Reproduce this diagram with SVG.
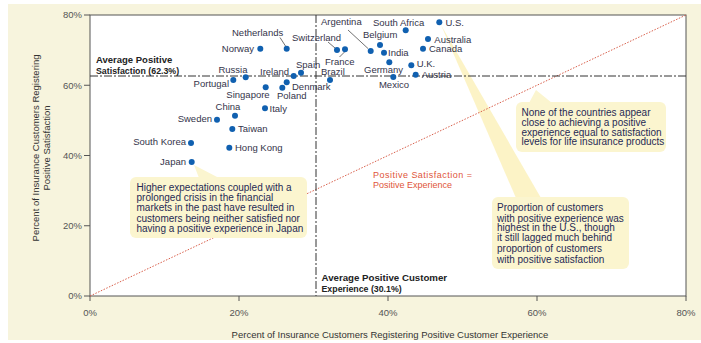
<svg xmlns="http://www.w3.org/2000/svg" width="701" height="343" viewBox="0 0 701 343">
<style>
.lbl{font-family:"Liberation Sans",Arial,sans-serif;font-size:9.5px;fill:#34344a}
.tick{font-family:"Liberation Sans",Arial,sans-serif;font-size:9.5px;fill:#555}
.ttl{font-family:"Liberation Sans",Arial,sans-serif;font-size:9.5px;fill:#333}
.avg{font-family:"Liberation Sans",Arial,sans-serif;font-weight:bold;fill:#222}
.note{font-family:"Liberation Sans",Arial,sans-serif;font-size:10px;fill:#262a55}
.red{font-family:"Liberation Sans",Arial,sans-serif;font-size:9px;fill:#e0553a}
.dot{fill:#1060b0}
.box{fill:#fbf5cf}
.dash{stroke:#333;stroke-width:1;stroke-dasharray:8 2 2 2;fill:none}
.lead{stroke:#333;stroke-width:0.7;fill:none}
</style>
<rect x="8" y="4" width="693" height="336" fill="#f7f4dd"/>
<rect x="90" y="15" width="596" height="281" fill="#fff" stroke="#555" stroke-width="1"/>
<g id="axes" stroke="#555" stroke-width="1">
<line x1="84" y1="15" x2="90" y2="15"/><line x1="84" y1="85.25" x2="90" y2="85.25"/><line x1="84" y1="155.5" x2="90" y2="155.5"/><line x1="84" y1="225.75" x2="90" y2="225.75"/><line x1="84" y1="296" x2="90" y2="296"/>
<line x1="90" y1="296" x2="90" y2="301"/><line x1="239" y1="296" x2="239" y2="301"/><line x1="388" y1="296" x2="388" y2="301"/><line x1="537" y1="296" x2="537" y2="301"/><line x1="686" y1="296" x2="686" y2="301"/>
</g>
<g id="ticklabels">
<text class="tick" x="82" y="18.3" text-anchor="end">80%</text>
<text class="tick" x="82" y="88.5" text-anchor="end">60%</text>
<text class="tick" x="82" y="158.8" text-anchor="end">40%</text>
<text class="tick" x="82" y="229" text-anchor="end">20%</text>
<text class="tick" x="82" y="299.3" text-anchor="end">0%</text>
<text class="tick" x="90" y="316" text-anchor="middle">0%</text>
<text class="tick" x="239" y="316" text-anchor="middle">20%</text>
<text class="tick" x="388" y="316" text-anchor="middle">40%</text>
<text class="tick" x="537" y="316" text-anchor="middle">60%</text>
<text class="tick" x="686" y="316" text-anchor="middle">80%</text>
</g>
<g id="axis-titles">
<text class="ttl" x="390" y="338" text-anchor="middle">Percent of Insurance Customers Registering Positive Customer Experience</text>
<text class="ttl" transform="translate(38.5,148) rotate(-90)" text-anchor="middle">Percent of Insurance Customers Registering</text>
<text class="ttl" transform="translate(50,148) rotate(-90)" text-anchor="middle">Positive Satisfaction</text>
</g>
<polygon id="us-pointer" points="441,25 516,198 541,198" fill="#fbf0b8" opacity="0.8"/>
<line id="equality-line" x1="90" y1="296" x2="686" y2="15" stroke="#d9604c" stroke-width="1" stroke-dasharray="1.5 1.5"/>
<g id="averages">
<line class="dash" x1="90" y1="76" x2="686" y2="76"/>
<line class="dash" x1="316" y1="15" x2="316" y2="296"/>
<text class="avg" x="96" y="62.5" font-size="9.5">Average Positive</text>
<text class="avg" x="96" y="73.8" font-size="8.8">Satisfaction (62.3%)</text>
<text class="avg" x="321.5" y="281" font-size="9.7">Average Positive Customer</text>
<text class="avg" x="321.5" y="292.2" font-size="8.8">Experience (30.1%)</text>
</g>
<g id="equality-label">
<text class="red" x="373" y="177.5" textLength="99">Positive Satisfaction =</text>
<text class="red" x="373" y="188">Positive Experience</text>
</g>
<g id="callout-japan">
<rect class="box" x="130" y="177" width="177" height="61" rx="6"/>
<polygon class="box" points="199,178 194,165 219,178"/>
<text class="note" x="136.5" y="191">Higher expectations coupled with a</text>
<text class="note" x="136.5" y="201">prolonged crisis in the financial</text>
<text class="note" x="136.5" y="211.3">markets in the past have resulted in</text>
<text class="note" x="136.5" y="221.6">customers being neither satisfied nor</text>
<text class="note" x="136.5" y="231.7">having a positive experience in Japan</text>
</g>
<g id="callout-none">
<rect class="box" x="516" y="102" width="150" height="50" rx="6"/>
<polygon class="box" points="529,103 536,90 552,103"/>
<text class="note" x="521.5" y="115.5" font-size="9.6" fill="#333355">None of the countries appear</text>
<text class="note" x="521.5" y="125.5" font-size="9.6" fill="#333355">close to achieving a positive</text>
<text class="note" x="521.5" y="135.5" font-size="9.6" fill="#333355">experience equal to satisfaction</text>
<text class="note" x="521.5" y="145.3" font-size="9.6" fill="#333355">levels for life insurance products</text>
</g>
<g id="callout-us">
<rect class="box" x="492" y="197" width="137" height="72" rx="6"/>
<text class="note" x="497" y="210.8">Proportion of customers</text>
<text class="note" x="497" y="221.5">with positive experience was</text>
<text class="note" x="497" y="231">highest in the U.S., though</text>
<text class="note" x="497" y="241.2">it still lagged much behind</text>
<text class="note" x="497" y="252">proportion of customers</text>
<text class="note" x="497" y="262.5">with positive satisfaction</text>
</g>
<g id="connectors">
<line class="lead" x1="280" y1="37.5" x2="285.5" y2="46"/>
<line class="lead" x1="348" y1="30" x2="368" y2="48.5"/>
<line class="lead" x1="328" y1="42" x2="335" y2="48"/>
<line class="lead" x1="339.5" y1="57" x2="344.5" y2="52"/>
</g>
<g id="netherlands"><circle class="dot" cx="286.7" cy="48.7" r="3"/><text class="lbl" x="232" y="36">Netherlands</text></g>
<g id="norway"><circle class="dot" cx="260.3" cy="48.7" r="3"/><text class="lbl" x="254" y="52" text-anchor="end">Norway</text></g>
<g id="russia"><circle class="dot" cx="245.7" cy="77.3" r="3"/><text class="lbl" x="233" y="72.6" text-anchor="middle">Russia</text></g>
<g id="portugal"><circle class="dot" cx="233.3" cy="80" r="3"/><text class="lbl" x="229" y="87.3" text-anchor="end">Portugal</text></g>
<g id="ireland"><circle class="dot" cx="293.7" cy="76" r="3"/><text class="lbl" x="260" y="75">Ireland</text></g>
<g id="spain"><circle class="dot" cx="301" cy="72.7" r="3"/><text class="lbl" x="296" y="68.3">Spain</text></g>
<g id="singapore"><circle class="dot" cx="265.7" cy="87.3" r="3"/><text class="lbl" x="248" y="97.6" text-anchor="middle">Singapore</text></g>
<g id="poland"><circle class="dot" cx="282.3" cy="87.7" r="3"/><text class="lbl" x="277" y="99">Poland</text></g>
<g id="denmark"><circle class="dot" cx="286.7" cy="82.3" r="3"/><text class="lbl" x="292" y="90">Denmark</text></g>
<g id="china"><circle class="dot" cx="235" cy="115.7" r="3"/><text class="lbl" x="228" y="110" text-anchor="middle">China</text></g>
<g id="italy"><circle class="dot" cx="265" cy="108.3" r="3"/><text class="lbl" x="269.5" y="111.6">Italy</text></g>
<g id="sweden"><circle class="dot" cx="217" cy="119.7" r="3"/><text class="lbl" x="212" y="122.3" text-anchor="end">Sweden</text></g>
<g id="taiwan"><circle class="dot" cx="232.3" cy="129" r="3"/><text class="lbl" x="238" y="132.3">Taiwan</text></g>
<g id="south-korea"><circle class="dot" cx="191" cy="143" r="3"/><text class="lbl" x="186" y="145" text-anchor="end" font-size="9">South Korea</text></g>
<g id="hong-kong"><circle class="dot" cx="229.3" cy="147.7" r="3"/><text class="lbl" x="235" y="150.8">Hong Kong</text></g>
<g id="japan"><circle class="dot" cx="191.7" cy="162" r="3"/><text class="lbl" x="186" y="165.3" text-anchor="end">Japan</text></g>
<g id="argentina"><circle class="dot" cx="370.7" cy="51" r="3"/><text class="lbl" x="321" y="25">Argentina</text></g>
<g id="switzerland"><circle class="dot" cx="337" cy="50" r="3"/><text class="lbl" x="292" y="40.6">Switzerland</text></g>
<g id="france"><circle class="dot" cx="345" cy="49.3" r="3"/><text class="lbl" x="325" y="64.8" font-size="9">France</text></g>
<g id="brazil"><circle class="dot" cx="330" cy="80" r="3"/><text class="lbl" x="321" y="75.3" font-size="9">Brazil</text></g>
<g id="belgium"><circle class="dot" cx="380" cy="45" r="3"/><text class="lbl" x="363" y="38.3">Belgium</text></g>
<g id="india"><circle class="dot" cx="384" cy="52.7" r="3"/><text class="lbl" x="388" y="56">India</text></g>
<g id="south-africa"><circle class="dot" cx="405.7" cy="30.3" r="3"/><text class="lbl" x="373" y="25.6" font-size="8.5">South Africa</text></g>
<g id="us"><circle class="dot" cx="439.3" cy="22.3" r="3"/><text class="lbl" x="445.5" y="25.6">U.S.</text></g>
<g id="australia"><circle class="dot" cx="428" cy="39" r="3"/><text class="lbl" x="434.3" y="42.5" font-size="9">Australia</text></g>
<g id="canada"><circle class="dot" cx="423" cy="48.7" r="3"/><text class="lbl" x="429" y="52.2" font-size="9">Canada</text></g>
<g id="germany"><circle class="dot" cx="389.3" cy="62.3" r="3"/><text class="lbl" x="364" y="72.6">Germany</text></g>
<g id="uk"><circle class="dot" cx="411.3" cy="65.3" r="3"/><text class="lbl" x="416.7" y="67.2" font-size="9">U.K.</text></g>
<g id="austria"><circle class="dot" cx="415.7" cy="74.7" r="3"/><text class="lbl" x="421.7" y="77.5" font-size="9">Austria</text></g>
<g id="mexico"><circle class="dot" cx="393.3" cy="77" r="3"/><text class="lbl" x="394" y="88.3" text-anchor="middle">Mexico</text></g>
</svg>
